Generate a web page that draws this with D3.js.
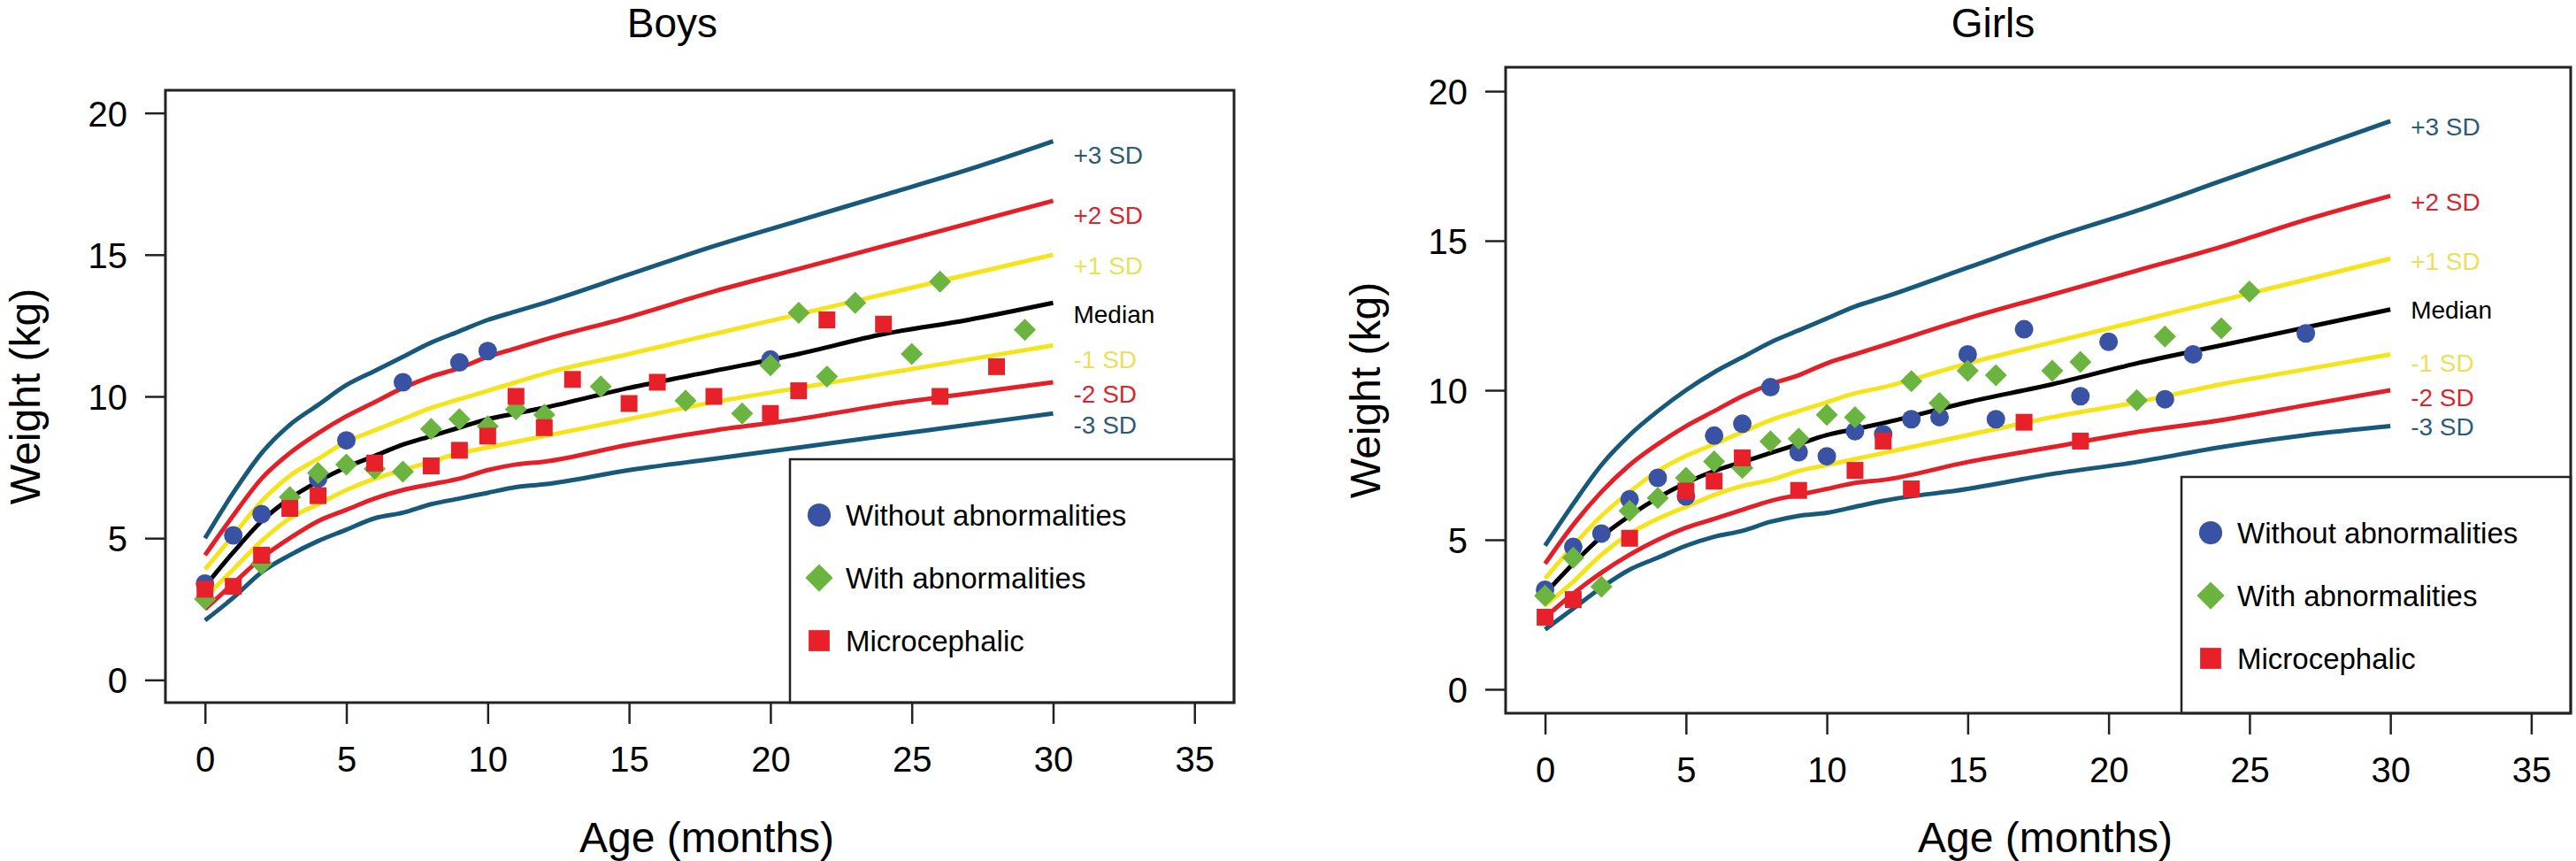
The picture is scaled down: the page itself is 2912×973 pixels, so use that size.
<!DOCTYPE html>
<html>
<head>
<meta charset="utf-8">
<script src="https://cdn.jsdelivr.net/npm/d3@7"></script>
<style>
  html, body { margin: 0; padding: 0; background: #fff; }
  svg text { font-family: "Liberation Sans", Arial, Helvetica, sans-serif; }
</style>
</head>
<body>
<svg id="chart" width="2912" height="973"></svg>
<script>
// ---------- DATA ----------
const xTicks = [0, 5, 10, 15, 20, 25, 30, 35];
const yTicks = [0, 5, 10, 15, 20];
const sdNames = ["+3 SD", "+2 SD", "+1 SD", "Median", "-1 SD", "-2 SD", "-3 SD"];
const legendNames = ["Without abnormalities", "With abnormalities", "Microcephalic"];

// reference curve ages (months)
const curveAges = [0, 1, 2, 3, 4, 5, 6, 7, 8, 9, 10, 11, 12, 15, 18, 21, 24, 27, 30];

// Boys reference curves (kg)
const boysP3  = [5.0, 6.6, 8.0, 9.0, 9.7, 10.4, 10.9, 11.4, 11.9, 12.3, 12.7, 13.0, 13.3, 14.3, 15.3, 16.2, 17.1, 18.0, 19.0];
const boysP2  = [4.4, 5.8, 7.1, 8.0, 8.7, 9.3, 9.8, 10.3, 10.7, 11.0, 11.4, 11.7, 12.0, 12.8, 13.7, 14.5, 15.3, 16.1, 16.9];
const boysP1  = [3.9, 5.1, 6.3, 7.2, 7.8, 8.4, 8.8, 9.2, 9.6, 9.9, 10.2, 10.5, 10.8, 11.5, 12.2, 12.9, 13.6, 14.3, 15.0];
const boysMed = [3.3, 4.5, 5.6, 6.4, 7.0, 7.5, 7.9, 8.3, 8.6, 8.9, 9.2, 9.4, 9.6, 10.3, 10.9, 11.5, 12.2, 12.7, 13.3];
const boysM1  = [2.9, 3.9, 4.9, 5.7, 6.2, 6.7, 7.1, 7.4, 7.7, 8.0, 8.2, 8.4, 8.6, 9.2, 9.8, 10.3, 10.8, 11.3, 11.8];
const boysM2  = [2.5, 3.4, 4.3, 5.0, 5.6, 6.0, 6.4, 6.7, 6.9, 7.1, 7.4, 7.6, 7.7, 8.3, 8.8, 9.2, 9.7, 10.1, 10.5];
const boysM3  = [2.1, 2.9, 3.8, 4.4, 4.9, 5.3, 5.7, 5.9, 6.2, 6.4, 6.6, 6.8, 6.9, 7.4, 7.8, 8.2, 8.6, 9.0, 9.4];

// Girls reference curves (kg)
const girlsP3  = [4.8, 6.2, 7.5, 8.5, 9.3, 10.0, 10.6, 11.1, 11.6, 12.0, 12.4, 12.8, 13.1, 14.1, 15.1, 16.0, 17.0, 18.0, 19.0];
const girlsP2  = [4.2, 5.5, 6.6, 7.5, 8.2, 8.8, 9.3, 9.8, 10.2, 10.5, 10.9, 11.2, 11.5, 12.4, 13.2, 14.0, 14.8, 15.7, 16.5];
const girlsP1  = [3.7, 4.8, 5.8, 6.6, 7.3, 7.8, 8.2, 8.6, 9.0, 9.3, 9.6, 9.9, 10.1, 10.9, 11.6, 12.3, 13.0, 13.7, 14.4];
const girlsMed = [3.2, 4.2, 5.1, 5.8, 6.4, 6.9, 7.3, 7.6, 7.9, 8.2, 8.5, 8.7, 8.9, 9.6, 10.2, 10.9, 11.5, 12.1, 12.7];
const girlsM1  = [2.8, 3.6, 4.5, 5.2, 5.7, 6.1, 6.5, 6.8, 7.0, 7.3, 7.5, 7.7, 7.9, 8.5, 9.1, 9.6, 10.2, 10.7, 11.2];
const girlsM2  = [2.4, 3.2, 3.9, 4.5, 5.0, 5.4, 5.7, 6.0, 6.3, 6.5, 6.7, 6.9, 7.0, 7.6, 8.1, 8.6, 9.0, 9.5, 10.0];
const girlsM3  = [2.0, 2.7, 3.4, 4.0, 4.4, 4.8, 5.1, 5.3, 5.6, 5.8, 5.9, 6.1, 6.3, 6.7, 7.2, 7.6, 8.1, 8.5, 8.8];

// where the SD curve labels sit (kg) at the right end of each panel
const boysLabelKg  = [18.5, 16.4, 14.6, 12.9, 11.3, 10.1, 9.0];
const girlsLabelKg = [18.8, 16.3, 14.3, 12.7, 10.9, 9.75, 8.78];

// Observed children: [age in months, weight in kg]
const boysWithout = [[0,3.4],[1,5.1],[2,5.85],[4,7.1],[5,8.45],[7,10.5],[9,11.2],[10,11.6],[20,11.3]];
const boysWith = [[0,2.85],[2,4.1],[3,6.45],[4,7.3],[5,7.6],[6,7.45],[7,7.35],[8,8.85],[9,9.2],[10,8.95],
  [11,9.55],[12,9.35],[14,10.35],[17,9.85],[19,9.4],[20,11.1],[21,12.95],[22,10.7],[23,13.3],[25,11.5],[26,14.05],[29,12.35]];
const boysMicro = [[0,3.2],[1,3.3],[2,4.4],[3,6.05],[4,6.5],[6,7.65],[8,7.55],[9,8.1],[10,8.6],[11,10.0],
  [12,8.9],[13,10.6],[15,9.75],[16,10.5],[18,10.0],[20,9.4],[21,10.2],[22,12.7],[24,12.55],[26,10.0],[28,11.05]];

const girlsWithout = [[0,3.33],[1,4.76],[2,5.21],[3,6.35],[4,7.07],[5,6.45],[6,8.48],[7,8.88],[8,10.1],[9,7.93],
  [10,7.79],[11,8.63],[12,8.53],[13,9.03],[14,9.1],[15,11.2],[16,9.03],[17,12.04],[19,9.8],[20,11.62],[22,9.7],[23,11.2],[27,11.9]];
const girlsWith = [[0,3.13],[1,4.4],[2,3.43],[3,5.97],[4,6.4],[5,7.07],[6,7.62],[7,7.4],[8,8.29],[9,8.38],
  [10,9.18],[11,9.1],[13,10.3],[14,9.57],[15,10.65],[16,10.5],[18,10.65],[19,10.95],[21,9.67],[22,11.8],[24,12.07],[25,13.3]];
const girlsMicro = [[0,2.41],[1,3.0],[3,5.05],[5,6.63],[6,6.96],[7,7.74],[9,6.65],[11,7.32],[12,8.3],[13,6.7],[17,8.93],[19,8.3]];

// ---------- STYLE ----------
const lineColors  = ["#17597b", "#e51f27", "#f5e41a", "#000000", "#f5e41a", "#e51f27", "#17597b"];
const labelColors = ["#2a5c78", "#d5282e", "#ebe05a", "#000000", "#ebe05a", "#d5282e", "#2a5c78"];
const markerColors = ["#3a52a3", "#6bb43f", "#e8202a"];

const svg = d3.select("#chart");

function drawMarker(g, type, cx, cy, s) {
  if (type === 0) {
    g.append("circle").attr("cx", cx).attr("cy", cy).attr("r", 10.5 * s).attr("fill", markerColors[0]);
  } else if (type === 1) {
    const h = 12.5 * s;
    g.append("path").attr("d", `M${cx},${cy - h}L${cx + h},${cy}L${cx},${cy + h}L${cx - h},${cy}Z`).attr("fill", markerColors[1]);
  } else {
    const h = 9.5 * s;
    g.append("rect").attr("x", cx - h).attr("y", cy - h).attr("width", 2 * h).attr("height", 2 * h).attr("fill", markerColors[2]);
  }
}

function drawPanel(p) {
  const g = svg.append("g");
  const x = d3.scaleLinear().domain([-1.4, 36.4]).range([p.x0, p.x1]);
  const y = d3.scaleLinear().domain([-0.8, 20.8]).range([p.y1, p.y0]);

  // title
  g.append("text").attr("x", p.titleX).attr("y", 42).attr("text-anchor", "middle")
    .attr("font-size", 46).attr("fill", "#000").text(p.title);

  // axes
  const xa = g.append("g").attr("transform", `translate(0,${p.y1})`)
    .call(d3.axisBottom(x).tickValues(xTicks).tickSize(24).tickFormat(d3.format("d")));
  xa.select(".domain").remove();
  xa.selectAll("line").attr("stroke", "#222").attr("stroke-width", 2.5);
  xa.selectAll("text").attr("y", 64).attr("dy", "0.35em").attr("font-size", 40).attr("fill", "#000")
    .style("font-family", '"Liberation Sans", Arial, sans-serif');

  const ya = g.append("g").attr("transform", `translate(${p.x0},0)`)
    .call(d3.axisLeft(y).tickValues(yTicks).tickSize(23).tickFormat(d3.format("d")));
  ya.select(".domain").remove();
  ya.selectAll("line").attr("stroke", "#222").attr("stroke-width", 2.5);
  ya.selectAll("text").attr("x", -43).attr("dy", "0.36em").attr("font-size", 40).attr("fill", "#000")
    .style("font-family", '"Liberation Sans", Arial, sans-serif');

  // axis titles
  g.append("text").attr("x", (p.x0 + p.x1) / 2 + 8).attr("y", 946).attr("dy", "0.35em")
    .attr("text-anchor", "middle").attr("font-size", 48).attr("fill", "#000").text("Age (months)");
  g.append("text").attr("transform", `translate(${p.x0 - 142},${(p.y0 + p.y1) / 2}) rotate(-90)`)
    .attr("text-anchor", "middle").attr("font-size", 48).attr("fill", "#000").text("Weight (kg)");

  // reference curves
  const line = d3.line().x((d, i) => x(curveAges[i])).y(d => y(d)).curve(d3.curveMonotoneX);
  p.curves.forEach((c, k) => {
    g.append("path").attr("d", line(c)).attr("fill", "none")
      .attr("stroke", lineColors[k]).attr("stroke-width", 5).attr("stroke-linejoin", "round");
    g.append("text").attr("x", x(30) + 23).attr("y", y(p.labelKg[k])).attr("dy", "0.35em")
      .attr("font-size", 28).attr("fill", labelColors[k]).text(sdNames[k]);
  });

  // observations
  p.groups.forEach((grp, t) => {
    grp.forEach(d => drawMarker(g, t, x(d[0]), y(d[1]), 1));
  });

  // legend
  const lx = p.legendX, ly = p.legendY;
  g.append("rect").attr("x", lx).attr("y", ly).attr("width", p.x1 - lx).attr("height", p.y1 - ly)
    .attr("fill", "#fff").attr("stroke", "#222").attr("stroke-width", 2.5);
  legendNames.forEach((name, t) => {
    const cy = ly + 63 + t * 71;
    drawMarker(g, t, lx + 33, cy, 1.25);
    g.append("text").attr("x", lx + 63).attr("y", cy).attr("dy", "0.35em")
      .attr("font-size", 33).attr("fill", "#000").text(name);
  });

  // frame
  g.append("rect").attr("x", p.x0).attr("y", p.y0).attr("width", p.x1 - p.x0).attr("height", p.y1 - p.y0)
    .attr("fill", "none").attr("stroke", "#222").attr("stroke-width", 3);
}

drawPanel({
  title: "Boys", titleX: 760,
  x0: 187, x1: 1395, y0: 102, y1: 794,
  legendX: 893, legendY: 519,
  curves: [boysP3, boysP2, boysP1, boysMed, boysM1, boysM2, boysM3],
  labelKg: boysLabelKg,
  groups: [boysWithout, boysWith, boysMicro]
});

drawPanel({
  title: "Girls", titleX: 2253,
  x0: 1702, x1: 2906, y0: 76, y1: 806,
  legendX: 2466, legendY: 539,
  curves: [girlsP3, girlsP2, girlsP1, girlsMed, girlsM1, girlsM2, girlsM3],
  labelKg: girlsLabelKg,
  groups: [girlsWithout, girlsWith, girlsMicro]
});
</script>
</body>
</html>
